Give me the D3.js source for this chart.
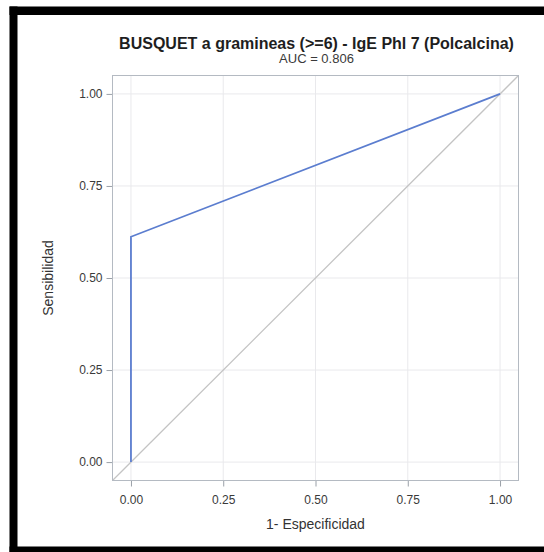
<!DOCTYPE html>
<html>
<head>
<meta charset="utf-8">
<script src="https://cdn.jsdelivr.net/npm/d3@7"></script>
<style>
  html, body { margin: 0; padding: 0; background: #fff; }
  svg { display: block; font-family: "Liberation Sans", Arial, sans-serif; }
</style>
</head>
<body>
<svg id="chart" width="544" height="552"></svg>
<script>
// ROC curve points: 1 - specificity (false positive rate) and sensitivity
const fpr = [0, 0, 1];
const tpr = [0, 0.612, 1];
const tickValues = [0, 0.25, 0.5, 0.75, 1];
const titleText = "BUSQUET a gramineas (>=6) - IgE Phl 7 (Polcalcina)";
const subtitleText = "AUC = 0.806";
const xLabel = "1- Especificidad";
const yLabel = "Sensibilidad";

const svg = d3.select("#chart");
const W = 544, H = 552;

// plot frame
const frameL = 112.5, frameR = 518.5, frameT = 75.5, frameB = 480.5;
const domain = [-0.05, 1.05];
const x = d3.scaleLinear().domain(domain).range([frameL, frameR]);
const y = d3.scaleLinear().domain(domain).range([frameB, frameT]);

// outer black border (top, left, bottom)
svg.append("rect").attr("x", 9.5).attr("y", 6.5).attr("width", W - 9.5).attr("height", 8.5).attr("fill", "#000");
svg.append("rect").attr("x", 9.5).attr("y", 6.5).attr("width", 8).attr("height", H - 6.5).attr("fill", "#000");
svg.append("rect").attr("x", 9.5).attr("y", 546.5).attr("width", W - 9.5).attr("height", 6).attr("fill", "#000");

// gridlines
const grid = svg.append("g");
grid.selectAll("line.gx").data(tickValues).join("line")
  .attr("class", "gx")
  .attr("x1", d => x(d)).attr("x2", d => x(d))
  .attr("y1", frameT).attr("y2", frameB)
  .attr("stroke", "#e9e9ec").attr("stroke-width", 1);
grid.selectAll("line.gy").data(tickValues).join("line")
  .attr("class", "gy")
  .attr("y1", d => y(d)).attr("y2", d => y(d))
  .attr("x1", frameL).attr("x2", frameR)
  .attr("stroke", "#e9e9ec").attr("stroke-width", 1);

// axes
const fmt = d3.format(".2f");
const xAxis = svg.append("g").attr("transform", `translate(0,${frameB})`)
  .call(d3.axisBottom(x).tickValues(tickValues).tickFormat(fmt).tickSize(6).tickPadding(9).tickSizeOuter(0));
const yAxis = svg.append("g").attr("transform", `translate(${frameL},0)`)
  .call(d3.axisLeft(y).tickValues(tickValues).tickFormat(fmt).tickSize(6).tickPadding(4).tickSizeOuter(0));
[xAxis, yAxis].forEach(a => {
  a.select(".domain").remove();
  a.selectAll(".tick line").attr("stroke", "#9aa0a8");
  a.selectAll(".tick text").attr("fill", "#3a3a3a").attr("font-size", 12)
    .attr("font-family", "'Liberation Sans', Arial, sans-serif");
});

// reference diagonal across the frame
svg.append("line")
  .attr("x1", x(domain[0])).attr("y1", y(domain[0]))
  .attr("x2", x(domain[1])).attr("y2", y(domain[1]))
  .attr("stroke", "#c4c4c4").attr("stroke-width", 1.3);

// ROC curve
const pts = fpr.map((d, i) => [d, tpr[i]]);
svg.append("path")
  .datum(pts)
  .attr("d", d3.line().x(d => x(d[0])).y(d => y(d[1])))
  .attr("fill", "none")
  .attr("stroke", "#5b7dcf")
  .attr("stroke-width", 1.8);

// frame
svg.append("rect")
  .attr("x", frameL).attr("y", frameT)
  .attr("width", frameR - frameL).attr("height", frameB - frameT)
  .attr("fill", "none").attr("stroke", "#b4bac2").attr("stroke-width", 1);

// titles
const cx = (frameL + frameR) / 2;
svg.append("text").attr("x", cx + 1).attr("y", 49)
  .attr("text-anchor", "middle").attr("font-size", 16).attr("font-weight", "bold")
  .attr("fill", "#1e1e1e").text(titleText);
svg.append("text").attr("x", cx + 1).attr("y", 63)
  .attr("text-anchor", "middle").attr("font-size", 13)
  .attr("fill", "#3a3a3a").text(subtitleText);

// axis titles
svg.append("text").attr("x", cx).attr("y", 529)
  .attr("text-anchor", "middle").attr("font-size", 14)
  .attr("fill", "#333").text(xLabel);
svg.append("text")
  .attr("transform", `translate(53,${(frameT + frameB) / 2}) rotate(-90)`)
  .attr("text-anchor", "middle").attr("font-size", 14)
  .attr("fill", "#333").text(yLabel);
</script>
</body>
</html>
